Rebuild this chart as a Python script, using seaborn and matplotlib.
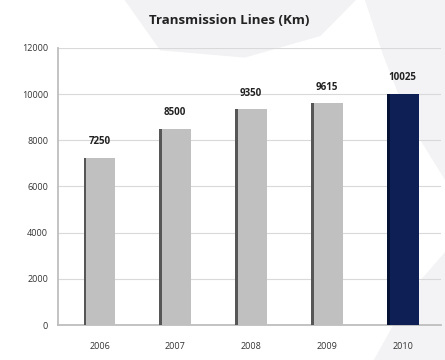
import matplotlib
matplotlib.use("Agg")
import matplotlib.pyplot as plt
from matplotlib.patches import Rectangle, Polygon
import seaborn as sns
import pandas as pd

years = ["2006", "2007", "2008", "2009", "2010"]
lengths_km = [7250, 8500, 9350, 9615, 10025]
bar_colors = ["#c0c0c0", "#c0c0c0", "#c0c0c0", "#c0c0c0", "#0d1f55"]
y_ticks = [0, 2000, 4000, 6000, 8000, 10000, 12000]

sns.set_theme(style="white")
plt.rcParams["font.family"] = ["Open Sans", "DejaVu Sans"]

fig = plt.figure(figsize=(4.45, 3.6), dpi=100)
fig.patch.set_facecolor("white")

# faint decorative swoosh behind the chart
bg = fig.add_axes([0, 0, 1, 1], zorder=0)
bg.set_xlim(0, 1)
bg.set_ylim(0, 1)
bg.axis("off")
bg.add_patch(Polygon([[0.28, 1.0], [0.80, 1.0], [0.72, 0.90], [0.55, 0.84], [0.36, 0.86]],
                     closed=True, color="#f2f2f4", lw=0))
bg.add_patch(Polygon([[0.82, 1.0], [1.0, 1.0], [1.0, 0.50], [0.92, 0.66], [0.86, 0.85]],
                     closed=True, color="#f3f3f5", lw=0))
bg.add_patch(Polygon([[0.84, 0.0], [1.0, 0.0], [1.0, 0.30], [0.93, 0.20]],
                     closed=True, color="#f3f3f5", lw=0))

ax = fig.add_axes([0.13, 0.097, 0.86, 0.77], zorder=1)
ax.patch.set_alpha(0)

df = pd.DataFrame({"year": years, "km": lengths_km})
sns.barplot(data=df, x="year", y="km", hue="year", palette=bar_colors,
            legend=False, width=0.42, saturation=1, edgecolor="none",
            linewidth=0, ax=ax, zorder=3)

# darker left face gives each column a slight depth
for patch, col in zip(ax.patches, bar_colors):
    x0, w, h = patch.get_x(), patch.get_width(), patch.get_height()
    shade = "#565656" if col != "#0d1f55" else "#061235"
    ax.add_patch(Rectangle((x0, 0), w * 0.09, h, color=shade, lw=0, zorder=4))

for i, v in enumerate(lengths_km):
    ax.text(i, v + 450, f"{v}", ha="center", va="bottom", fontsize=7,
            fontweight="bold", color="#222222", zorder=5)

ax.set_ylim(0, 12000)
ax.set_yticks(y_ticks)
ax.set_yticklabels([str(t) for t in y_ticks], fontsize=6.5, color="#333333")
ax.tick_params(axis="x", labelsize=6.5, colors="#333333", length=0, pad=12)
ax.tick_params(axis="y", length=3, color="#bbbbbb", pad=4)
ax.set_xlabel("")
ax.set_ylabel("")
ax.yaxis.grid(True, color="#d9d9d9", lw=0.8, zorder=0)
for s in ["top", "right"]:
    ax.spines[s].set_visible(False)
ax.spines["left"].set_color("#bbbbbb")
ax.spines["bottom"].set_color("#bbbbbb")
ax.set_xlim(-0.55, 4.5)

fig.text(0.515, 0.944, "Transmission Lines (Km)", ha="center", va="center",
         fontsize=9.5, fontweight="bold", color="#222222")

fig.savefig("out.png", dpi=100)
